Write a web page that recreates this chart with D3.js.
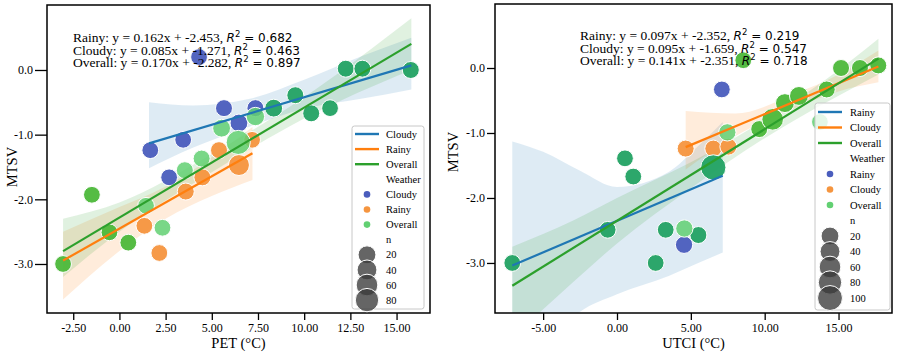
<!DOCTYPE html>
<html>
<head>
<meta charset="utf-8">
<script src="https://cdn.jsdelivr.net/npm/d3@7"></script>
<style>
  body { margin: 0; background: #fff; }
  svg { display: block; }
</style>
</head>
<body>
<svg id="chart" width="897" height="354"></svg>
<script>
// ---- data ----
const mtsvTicks = [0, -1, -2, -3];
const petTicks = [-2.5, 0, 2.5, 5, 7.5, 10, 12.5, 15];
const utciTicks = [-5, 0, 5, 10, 15];

// PET panel points
const petX = [5.66, 7.36, 6.47, 3.45, 1.67, 2.69, 4.31,
  5.39, 7.18, 6.47, 4.49, 3.59, 1.35, 2.16,
  -3.05, -1.49, -0.54, 0.48,
  1.44, 2.33, 3.54, 4.45, 5.53, 6.43, 7.36,
  8.35, 9.52, 10.38, 11.4, 12.25, 13.15, 15.77];
const petY = [-0.59, -0.59, -0.82, -1.08, -1.24, -1.66, 0.2,
  -1.24, -1.08, -1.47, -1.66, -1.88, -2.41, -2.83,
  -3.0, -1.93, -2.51, -2.67,
  -2.1, -2.44, -1.55, -1.37, -0.9, -1.12, -0.72,
  -0.59, -0.39, -0.67, -0.59, 0.02, 0.02, 0.0];
const petN = [12, 12, 20, 10, 10, 10, 10,
  12, 10, 52, 12, 12, 10, 10,
  10, 10, 10, 10,
  10, 10, 12, 12, 20, 90, 25,
  20, 12, 12, 10, 12, 12, 12];
const petGroup = ['Cloudy', 'Cloudy', 'Cloudy', 'Cloudy', 'Cloudy', 'Cloudy', 'Cloudy',
  'Rainy', 'Rainy', 'Rainy', 'Rainy', 'Rainy', 'Rainy', 'Rainy',
  'OverallC', 'OverallC', 'OverallC', 'OverallC',
  'OverallB', 'OverallB', 'OverallB', 'OverallB', 'OverallB', 'OverallB', 'OverallB',
  'OverallA', 'OverallA', 'OverallA', 'OverallA', 'OverallA', 'OverallA', 'OverallA'];

// PET fits (annotation order)
const petFitNames = ['Rainy', 'Cloudy', 'Overall'];
const petSlopes = [0.162, 0.085, 0.170];
const petIntercepts = [-2.453, -1.271, -2.282];
const petR2 = [0.682, 0.463, 0.897];
const petFitRange = [[-3.05, 7.2], [1.6, 15.8], [-3.05, 15.8]];
const petBands = [
  [[-3.05, -3.55, -2.5], [0, -2.8, -2.12], [2.5, -2.3, -1.8], [5, -1.95, -1.35], [7.2, -1.7, -0.88]],
  [[1.6, -1.52, -0.5], [4, -1.2, -0.55], [7, -0.88, -0.45], [10, -0.6, -0.15], [13, -0.45, 0.2], [15.8, -0.3, 0.5]],
  [[-3.05, -3.2, -2.3], [0, -2.5, -2.05], [5, -1.58, -1.3], [10, -0.75, -0.42], [15.8, 0.0, 0.8]]
];
const petLegend = ['Cloudy', 'Rainy', 'Overall'];
const petSizeTicks = [20, 40, 60, 80];

// UTCI panel points
const utciX = [4.54, 7.1,
  4.65, 6.52, 7.54,
  -7.09, -0.63, 0.54, 1.1, 2.62, 3.3, 5.51, 6.52,
  4.56, 7.47, 13.74,
  8.55, 9.63, 10.54, 11.37, 12.32, 14.2, 15.17, 16.45, 17.69];
const utciY = [-2.72, -0.33,
  -1.24, -1.24, -1.21,
  -3.0, -2.49, -1.39, -1.67, -3.0, -2.49, -2.57, -1.53,
  -2.47, -0.99, -0.83,
  0.12, -0.94, -0.79, -0.54, -0.43, -0.33, 0.0, 0.0, 0.04];
const utciN = [15, 10,
  12, 12, 12,
  10, 10, 10, 10, 10, 10, 12, 105,
  15, 15, 10,
  10, 12, 60, 30, 30, 12, 12, 12, 12];
const utciGroup = ['Rainy', 'Rainy',
  'Cloudy', 'Cloudy', 'Cloudy',
  'OverallA', 'OverallA', 'OverallA', 'OverallA', 'OverallA', 'OverallA', 'OverallA', 'OverallA',
  'OverallB', 'OverallB', 'OverallB',
  'OverallC', 'OverallC', 'OverallC', 'OverallC', 'OverallC', 'OverallC', 'OverallC', 'OverallC', 'OverallC'];

const utciFitNames = ['Rainy', 'Cloudy', 'Overall'];
const utciSlopes = [0.097, 0.095, 0.141];
const utciIntercepts = [-2.352, -1.659, -2.351];
const utciR2 = [0.219, 0.547, 0.718];
const utciFitRange = [[-7.09, 7.16], [4.65, 17.7], [-7.09, 17.7]];
const utciBands = [
  [[-7.09, -5.0, -1.13], [-5, -4.3, -1.29], [-2.5, -3.75, -1.58], [0, -3.48, -1.83], [3.5, -3.2, -1.6], [5.5, -3.0, -1.2], [7.16, -2.84, -0.83]],
  [[4.65, -1.56, -0.66], [8, -1.05, -0.7], [12, -0.62, -0.4], [15, -0.36, -0.1], [17.7, -0.22, 0.27]],
  [[-7.09, -4.15, -2.75], [-3, -3.3, -2.35], [0, -2.7, -2.0], [5, -1.85, -1.45], [10, -1.08, -0.8], [14, -0.55, -0.2], [17.7, -0.1, 0.45]]
];
const utciLegend = ['Rainy', 'Cloudy', 'Overall'];
const utciSizeTicks = [20, 40, 60, 80, 100];

// ---- styling ----
const lineColors = ['#1f77b4', '#ff7f0e', '#2ca02c'];
const dotColors = ['#4a5dbd', '#f5953f'];
const overallTones = { OverallA: '#22a263', OverallB: '#62d072', OverallC: '#4cb83a' };
const serif = "'Liberation Serif', 'Times New Roman', serif";
const sans = "'DejaVu Sans', sans-serif";

const svg = d3.select('#chart');
const area = d3.scaleLinear().domain([0, 100]).range([61, 155]);
const radius = n => Math.sqrt(area(n));

function dotColor(group, legend) {
  if (group.startsWith('Overall')) return overallTones[group];
  return dotColors[legend.indexOf(group)];
}

function drawPanel(p) {
  const x = d3.scaleLinear().domain(p.xDomain).range([p.left, p.right]);
  const y = d3.scaleLinear().domain(p.yDomain).range([p.top, p.bottom]);
  const g = svg.append('g');

  const clipId = 'clip-' + p.id;
  svg.append('clipPath').attr('id', clipId)
    .append('rect')
    .attr('x', p.left).attr('y', p.top)
    .attr('width', p.right - p.left).attr('height', p.bottom - p.top);
  const plot = g.append('g').attr('clip-path', `url(#${clipId})`);

  // confidence bands
  const band = d3.area()
    .x(d => x(d[0])).y0(d => y(d[1])).y1(d => y(d[2]))
    .curve(d3.curveMonotoneX);
  p.fitNames.forEach((name, i) => {
    plot.append('path')
      .attr('d', band(p.bands[i]))
      .attr('fill', lineColors[p.legend.indexOf(name)])
      .attr('fill-opacity', 0.15);
  });

  // annotation (sits under the points)
  p.fitNames.forEach((name, i) => {
    const t = g.append('text')
      .attr('x', p.noteX).attr('y', p.noteY + i * 12.5)
      .attr('fill', '#000');
    t.append('tspan').attr('font-family', serif).attr('font-size', 13.5)
      .text(`${name}: y = ${p.slopes[i].toFixed(3)}x + ${p.intercepts[i].toFixed(3)}, `);
    t.append('tspan').attr('font-family', sans).attr('font-size', 12)
      .attr('font-style', 'italic').text('R');
    t.append('tspan').attr('font-family', sans).attr('font-size', 8.5)
      .attr('dy', -5).text('2');
    t.append('tspan').attr('font-family', sans).attr('font-size', 12)
      .attr('dy', 5).text(` = ${p.r2[i].toFixed(3)}`);
  });

  // points
  const pts = p.xs.map((v, i) => ({ x: v, y: p.ys[i], n: p.ns[i], group: p.groups[i] }));
  plot.selectAll('circle.pt')
    .data(pts)
    .enter()
    .append('circle')
    .attr('class', 'pt')
    .attr('cx', d => x(d.x))
    .attr('cy', d => y(d.y))
    .attr('r', d => radius(d.n))
    .attr('fill', d => dotColor(d.group, p.legend))
    .attr('fill-opacity', d => d.group === 'OverallB' ? 0.85 : 0.95)
    .attr('stroke', '#fff')
    .attr('stroke-width', 1);

  // regression lines
  const line = d3.line().x(d => x(d[0])).y(d => y(d[1]));
  p.fitNames.forEach((name, i) => {
    const ends = p.ranges[i].map(v => [v, p.slopes[i] * v + p.intercepts[i]]);
    plot.append('path')
      .attr('d', line(ends))
      .attr('stroke', lineColors[p.legend.indexOf(name)])
      .attr('stroke-width', 2.2)
      .attr('fill', 'none');
  });

  // axes
  const xAxis = g.append('g')
    .attr('transform', `translate(0,${p.bottom})`)
    .call(d3.axisBottom(x).tickValues(p.xTicks).tickFormat(d => d.toFixed(2)).tickSize(7).tickPadding(3));
  const yAxis = g.append('g')
    .attr('transform', `translate(${p.left},0)`)
    .call(d3.axisLeft(y).tickValues(mtsvTicks).tickFormat(d => d.toFixed(1)).tickSize(p.yTickSize).tickPadding(2));
  [xAxis, yAxis].forEach(a => {
    a.select('.domain').remove();
    a.selectAll('.tick line').attr('stroke', '#000').attr('stroke-width', 1.3);
    a.selectAll('.tick text').attr('font-family', serif).attr('font-size', 12).attr('fill', '#000');
  });

  g.append('rect')
    .attr('x', p.left).attr('y', p.top)
    .attr('width', p.right - p.left).attr('height', p.bottom - p.top)
    .attr('fill', 'none').attr('stroke', '#000').attr('stroke-width', 1.5);

  g.append('text')
    .attr('x', (p.left + p.right) / 2).attr('y', 348)
    .attr('text-anchor', 'middle')
    .attr('font-family', serif).attr('font-size', 14.5)
    .text(p.xLabel);
  g.append('text')
    .attr('transform', `translate(${p.yLabelX},${p.yLabelY}) rotate(-90)`)
    .attr('text-anchor', 'middle')
    .attr('font-family', serif).attr('font-size', 14.5)
    .text('MTSV');

  // legend
  const L = p.legendBox;
  const lg = g.append('g');
  lg.append('rect')
    .attr('x', L.x).attr('y', L.y).attr('width', L.w).attr('height', L.h)
    .attr('rx', 2.5)
    .attr('fill', '#fff').attr('fill-opacity', 0.8)
    .attr('stroke', '#c8c8c8').attr('stroke-width', 1);
  const hx = L.x + L.handle;
  const tx = L.x + L.text;
  const rowY = i => L.y0 + i * L.step;
  const label = (i, s) => lg.append('text')
    .attr('x', tx).attr('y', rowY(i)).attr('dy', '0.35em')
    .attr('font-family', serif).attr('font-size', 10.5)
    .text(s);

  p.legend.forEach((name, i) => {
    lg.append('line')
      .attr('x1', hx - 12).attr('x2', hx + 12)
      .attr('y1', rowY(i)).attr('y2', rowY(i))
      .attr('stroke', lineColors[i]).attr('stroke-width', 2.4);
    label(i, name);
  });
  label(3, 'Weather');
  p.legend.forEach((name, i) => {
    lg.append('circle')
      .attr('cx', hx).attr('cy', rowY(4 + i)).attr('r', 3.3)
      .attr('fill', name === 'Overall' ? overallTones.OverallB : dotColors[i]);
    label(4 + i, name);
  });
  label(7, 'n');
  p.sizeTicks.forEach((n, i) => {
    lg.append('circle')
      .attr('cx', hx).attr('cy', rowY(8 + i)).attr('r', radius(n))
      .attr('fill', '#3a3a3a').attr('fill-opacity', 0.78)
      .attr('stroke', '#fff').attr('stroke-width', 1);
    label(8 + i, String(n));
  });
}

drawPanel({
  id: 'pet', left: 47, right: 430, top: 5, bottom: 313,
  xDomain: [-3.92, 16.81], yDomain: [1.005, -3.758],
  xTicks: petTicks, xLabel: 'PET (°C)', yTickSize: 12,
  yLabelX: 17, yLabelY: 167,
  xs: petX, ys: petY, ns: petN, groups: petGroup,
  fitNames: petFitNames, slopes: petSlopes, intercepts: petIntercepts, r2: petR2,
  ranges: petFitRange, bands: petBands, legend: petLegend, sizeTicks: petSizeTicks,
  noteX: 73, noteY: 42,
  legendBox: { x: 352, y: 126, w: 72, h: 183, handle: 15, text: 34, y0: 134, step: 15.1 }
});

drawPanel({
  id: 'utci', left: 495, right: 892, top: 4, bottom: 313,
  xDomain: [-8.26, 18.62], yDomain: [0.985, -3.77],
  xTicks: utciTicks, xLabel: 'UTCI (°C)', yTickSize: 8,
  yLabelX: 458, yLabelY: 152,
  xs: utciX, ys: utciY, ns: utciN, groups: utciGroup,
  fitNames: utciFitNames, slopes: utciSlopes, intercepts: utciIntercepts, r2: utciR2,
  ranges: utciFitRange, bands: utciBands, legend: utciLegend, sizeTicks: utciSizeTicks,
  noteX: 580, noteY: 40,
  legendBox: { x: 815, y: 103, w: 75, h: 207, handle: 15, text: 35, y0: 112, step: 15.5 }
});
</script>
</body>
</html>
